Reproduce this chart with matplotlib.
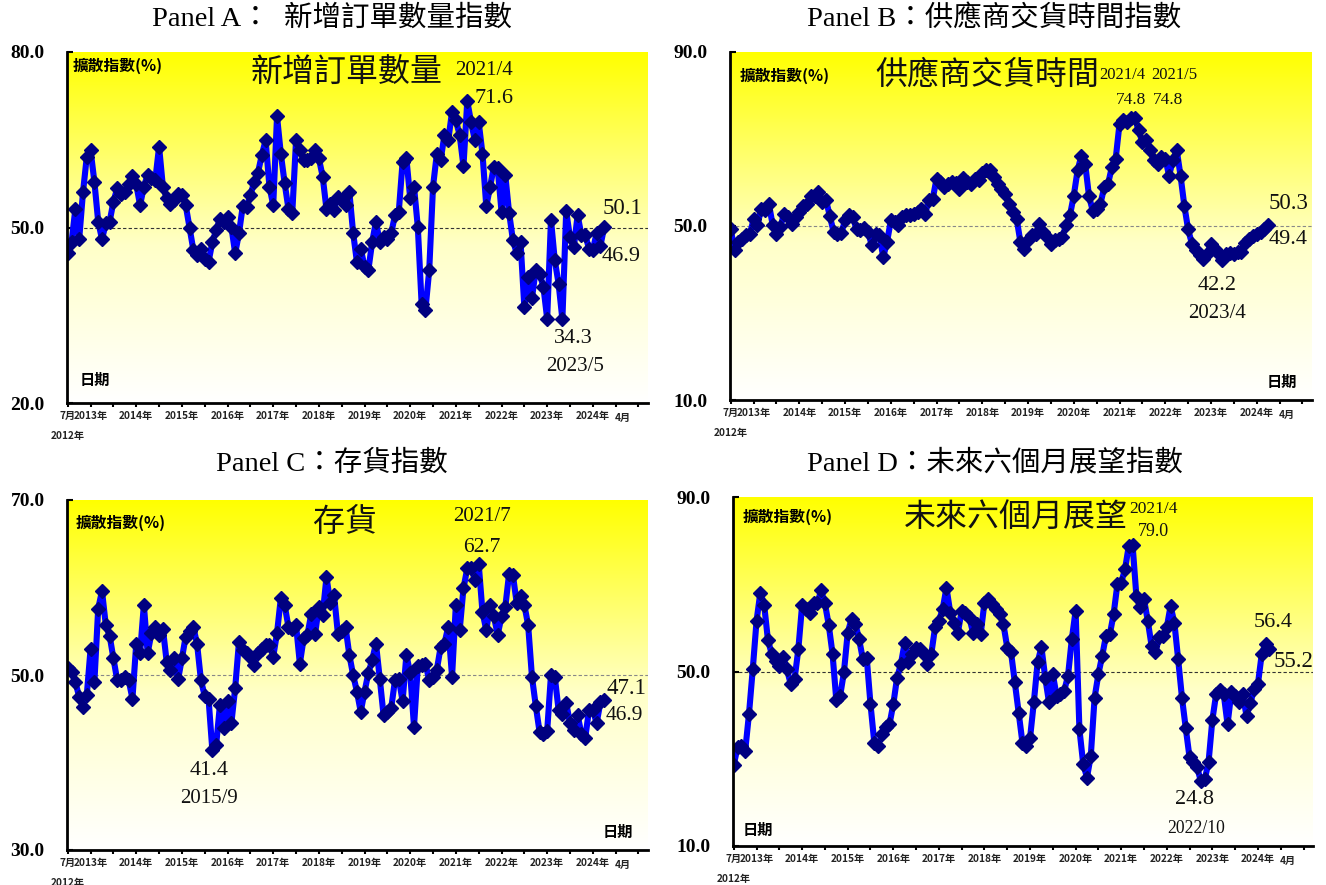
import numpy as np
import matplotlib.pyplot as plt
from matplotlib.colors import LinearSegmentedColormap

plt.rcParams['font.family'] = ['Liberation Serif', 'Noto Sans CJK TC']

##### 資料 (2012/7 ~ 2024/4, 每月一點) #####
new_orders = [45.6, 47.5, 53.2, 48.0, 56.0, 62.1, 63.2, 57.8, 51.0, 48.0, 50.7, 51.0,
              54.4, 56.7, 55.7, 56.1, 57.5, 58.8, 57.4, 53.8, 57.0, 59.0, 58.5, 58.1,
              63.8, 57.0, 55.0, 54.0, 54.7, 55.8, 55.5, 53.8, 50.0, 46.2, 45.3, 46.4,
              44.7, 44.1, 47.5, 49.5, 51.5, 51.0, 51.8, 50.1, 45.6, 49.0, 53.7, 53.5,
              55.5, 57.8, 59.4, 62.4, 64.9, 57.0, 53.8, 69.0, 62.6, 57.6, 53.2, 52.4,
              64.9, 63.2, 61.5, 61.5, 61.8, 63.3, 61.8, 58.7, 53.1, 54.0, 53.0, 55.2,
              54.7, 53.8, 56.1, 49.1, 44.1, 46.4, 43.3, 42.7, 47.5, 51.0, 47.5, 48.4,
              48.1, 49.0, 52.1, 52.7, 61.2, 61.8, 55.0, 57.0, 50.1, 37.0, 35.9, 42.7,
              57.0, 62.6, 61.5, 65.8, 64.9, 69.8, 68.3, 65.8, 60.5, 71.6, 68.0, 64.9,
              68.0, 62.6, 53.6, 57.0, 60.4, 60.1, 52.7, 58.9, 52.5, 47.8, 45.6, 47.5,
              36.4, 41.6, 37.9, 42.8, 42.1, 39.9, 34.4, 51.3, 44.4, 40.4, 34.3, 52.8,
              48.3, 46.6, 52.1, 48.7, 48.7, 46.4, 46.1, 49.1, 46.9, 50.1]

supplier_delivery = [49.2, 44.4, 46.3, 47.1, 47.9, 48.2, 51.5, 50.2, 54.0, 53.6, 55.1, 50.2,
                     48.2, 49.8, 52.8, 52.1, 50.5, 52.1, 53.2, 54.5, 55.1, 56.8, 57.0, 57.8,
                     55.5, 55.9, 52.2, 48.6, 48.2, 48.4, 51.3, 52.5, 52.1, 49.2, 49.0, 49.6,
                     48.6, 45.6, 48.2, 47.9, 42.9, 46.3, 51.3, 50.9, 50.2, 52.1, 52.5, 52.5,
                     52.8, 53.2, 54.0, 52.8, 56.0, 56.3, 60.9, 60.1, 59.0, 59.7, 60.1, 59.9,
                     58.6, 61.0, 60.1, 59.7, 60.9, 60.5, 62.2, 62.9, 62.8, 61.3, 59.7, 58.6,
                     57.4, 55.1, 53.2, 51.7, 46.3, 44.8, 46.7, 47.9, 48.2, 50.5, 48.6, 47.5,
                     45.9, 46.7, 47.1, 47.5, 50.2, 52.5, 57.0, 62.8, 66.2, 64.2, 56.8, 53.4,
                     54.0, 55.1, 59.0, 59.7, 63.6, 65.5, 73.5, 74.3, 74.0, 74.8, 74.8, 72.0,
                     69.3, 69.7, 67.4, 65.1, 64.3, 65.9, 65.5, 61.6, 65.1, 67.5, 61.6, 54.7,
                     49.2, 45.9, 44.4, 43.3, 42.5, 43.6, 45.9, 44.8, 43.6, 42.2, 43.6, 43.8,
                     43.6, 44.0, 44.0, 46.1, 46.9, 47.6, 48.2, 48.6, 49.4, 50.3]

inventories = [50.8, 50.3, 49.2, 47.5, 46.4, 47.7, 53.0, 49.2, 57.6, 59.6, 55.7, 54.5,
               51.9, 49.4, 49.4, 49.8, 49.4, 47.3, 53.6, 52.5, 58.0, 52.5, 54.8, 55.5,
               54.6, 55.3, 51.5, 50.6, 51.9, 49.5, 51.9, 54.4, 55.0, 55.5, 53.5, 49.4,
               47.6, 47.3, 41.4, 42.0, 46.6, 43.9, 47.0, 44.5, 48.5, 53.8, 52.9, 52.5,
               52.1, 51.1, 52.5, 53.0, 53.4, 53.4, 52.1, 54.8, 58.8, 58.0, 55.5, 55.3,
               55.7, 51.3, 54.2, 54.6, 57.0, 54.7, 57.8, 56.9, 61.2, 58.2, 59.1, 54.7,
               55.0, 55.5, 52.3, 50.0, 48.1, 45.8, 48.1, 50.2, 51.7, 53.6, 49.6, 45.4,
               45.8, 46.2, 49.4, 49.6, 47.0, 52.3, 50.2, 44.1, 51.0, 51.1, 51.3, 49.4,
               49.8, 50.6, 53.2, 53.6, 55.5, 49.8, 58.0, 55.1, 59.9, 62.2, 62.2, 60.9,
               62.7, 57.2, 55.1, 58.0, 56.7, 54.6, 56.7, 57.8, 61.6, 61.4, 58.2, 59.0,
               58.0, 55.7, 49.8, 46.5, 43.5, 43.3, 43.6, 50.0, 49.8, 46.0, 45.6, 46.8,
               44.5, 43.7, 45.4, 43.3, 42.8, 46.0, 46.0, 44.5, 46.9, 47.1]

future_outlook = [28.6, 32.6, 33.0, 31.7, 40.2, 50.5, 61.6, 68.1, 65.3, 57.2, 54.0, 52.4,
                  51.3, 53.4, 50.5, 47.1, 48.2, 55.1, 65.3, 64.3, 63.5, 65.8, 65.6, 68.6,
                  65.6, 60.7, 54.1, 43.4, 44.4, 49.8, 58.9, 62.0, 61.0, 57.4, 52.8, 53.2,
                  42.5, 33.7, 33.0, 35.6, 37.2, 37.9, 42.5, 48.6, 51.7, 56.6, 52.1, 54.0,
                  55.5, 55.1, 54.0, 51.8, 54.0, 60.1, 61.6, 64.3, 69.2, 63.5, 61.2, 58.9,
                  63.9, 63.5, 62.4, 58.9, 60.8, 58.5, 65.8, 66.6, 65.4, 64.3, 63.1, 60.8,
                  55.5, 54.4, 47.5, 40.6, 33.7, 33.0, 34.7, 42.9, 52.1, 55.6, 48.6, 42.9,
                  49.4, 44.4, 44.8, 45.6, 49.0, 57.4, 63.9, 36.8, 28.8, 25.7, 30.7, 44.0,
                  49.4, 53.6, 58.2, 58.5, 63.1, 70.0, 70.4, 73.4, 78.8, 79.0, 67.3, 64.7,
                  66.6, 61.6, 55.9, 54.4, 57.8, 58.2, 60.1, 65.0, 61.2, 52.8, 44.0, 37.0,
                  30.3, 29.2, 28.0, 24.8, 25.3, 29.2, 38.9, 44.8, 45.7, 44.8, 37.9, 45.2,
                  44.4, 42.9, 44.8, 39.8, 42.7, 46.0, 47.1, 54.0, 56.4, 55.2]

year_labels = ["2013年", "2014年", "2015年", "2016年", "2017年", "2018年",
               "2019年", "2020年", "2021年", "2022年", "2023年", "2024年"]

##### 畫布 #####
W, H = 1326, 885
fig = plt.figure(figsize=(W / 100, H / 100), dpi=100)

#黃色->白色漸層
cmap_bg = LinearSegmentedColormap.from_list(
    "yw", [(0, "#FFFFFF"), (0.45, "#FFFFC8"), (1, "#FFFF00")])
grad = np.linspace(0, 1, 256).reshape(-1, 1)

tick_font = dict(fontsize=7.3, fontweight="bold", family="Noto Sans CJK TC", color="#222222")


def draw_panel(box, values, ymin, ymax, title, inner_title, inner_pos, label_pos,
               date_pos, notes, ref_color):
    left, top, right, bottom = box
    ax = fig.add_axes([left / W, 1 - bottom / H, (right - left) / W, (bottom - top) / H])
    ax.imshow(grad, cmap=cmap_bg, extent=[0, 1, 0, 1], transform=ax.transAxes,
              aspect="auto", origin="lower", zorder=0)

    x = np.arange(len(values))
    ax.axhline(50, color=ref_color, lw=0.8, dashes=(3, 2), zorder=1)
    ax.plot(x, values, color="#0000FF", lw=4.4, zorder=2, solid_joinstyle="round")
    ax.plot(x, values, ls="none", marker="D", ms=6.8, color="#000080", zorder=3)

    ax.set_xlim(-0.2, 152.5)
    ax.set_ylim(ymin, ymax)

    #軸線
    for s in ["top", "right"]:
        ax.spines[s].set_visible(False)
    for s in ["left", "bottom"]:
        ax.spines[s].set_linewidth(2)
        ax.spines[s].set_zorder(4)

    ax.set_yticks([ymin, 50, ymax])
    ax.set_yticklabels([f"{v:.1f}" for v in [ymin, 50, ymax]],
                       fontsize=14, fontweight="bold", family="Liberation Serif")
    ax.tick_params(axis="y", direction="in", length=4, width=1.5, pad=16)

    ticks = list(range(0, 151, 6))
    labels = []
    for t in ticks:
        if t == 0:
            labels.append("7月")
        elif (t - 6) % 12 == 0 and (t - 6) // 12 < len(year_labels):
            labels.append(year_labels[(t - 6) // 12])
        else:
            labels.append("")
    ax.set_xticks(ticks)
    ax.set_xticklabels(labels, **tick_font)
    ax.tick_params(axis="x", direction="out", length=3, width=1.5, pad=3)
    ax.annotate("4月", xy=(146, 0), xycoords=("data", "axes fraction"),
                xytext=(0, -11), textcoords="offset points", ha="center", va="center",
                **tick_font)
    ax.annotate("2012年", xy=(0, 0), xycoords=("data", "axes fraction"),
                xytext=(0, -24), textcoords="offset points", ha="center", va="center",
                annotation_clip=False, **tick_font)

    #文字
    ax.text(inner_pos[0], inner_pos[1], inner_title, transform=ax.transAxes, ha="center",
            va="center", fontsize=23, fontweight=300, family="Noto Sans CJK TC",
            color="#111111", zorder=5)
    ax.text(label_pos[0], label_pos[1], "擴散指數(%)", transform=ax.transAxes, ha="left",
            va="center", fontsize=11.3, fontweight="bold", family="Noto Sans CJK TC", zorder=5)
    ax.text(date_pos[0], date_pos[1], "日期", transform=ax.transAxes, ha=date_pos[2],
            va="center", fontsize=11, fontweight="bold", family="Noto Sans CJK TC", zorder=5)
    for txt, nx, ny, size in notes:
        ax.text(nx, ny, txt, ha="center", va="center", fontsize=size,
                family="Liberation Serif", color="#111111", zorder=5)

    cx = 0.25 if left < W / 2 else 0.75
    cy = 1 - (18 / H) if top < H / 2 else 1 - (463 / H)
    fig.text(cx, cy, title, ha="center", va="center", fontsize=20.5)
    return ax


draw_panel((67, 52, 648, 403), new_orders, 20, 80, "Panel A：  新增訂單數量指數",
           "新增訂單數量", (0.482, 0.943), (0.009, 0.96), (0.022, 0.066, "left"),
           [("2021/4", 109.3, 76.9, 15), ("71.6", 111.9, 72.1, 16),
            ("50.1", 145.7, 53.3, 16.5), ("46.9", 145.5, 45.1, 16),
            ("34.3", 132.9, 31.1, 16), ("2023/5", 133.4, 26.2, 15)], "#333333")

draw_panel((730, 52, 1312, 400), supplier_delivery, 10, 90, "Panel B：供應商交貨時間指數",
           "供應商交貨時間", (0.443, 0.934), (0.017, 0.931), (0.974, 0.052, "right"),
           [("2021/4", 102.8, 84.7, 12), ("2021/5", 116.4, 84.7, 12),
            ("74.8", 104.9, 79.0, 12.5), ("74.8", 114.6, 79.0, 12.5),
            ("50.3", 146.3, 55.1, 16.5), ("49.4", 146.3, 46.8, 16),
            ("42.2", 127.7, 36.4, 16), ("2023/4", 127.7, 29.8, 15)], "#888888")

draw_panel((67, 500, 648, 850), inventories, 30, 70, "Panel C：存貨指數",
           "存貨", (0.478, 0.937), (0.015, 0.934), (0.974, 0.051, "right"),
           [("41.4", 37.1, 39.1, 16), ("2015/9", 37.1, 35.9, 15),
            ("2021/7", 109.0, 68.1, 15), ("62.7", 108.7, 64.6, 15.5),
            ("47.1", 146.8, 48.5, 16.5), ("46.9", 146.3, 45.4, 15.5)], "#888888")

draw_panel((733, 497, 1313, 846), future_outlook, 10, 90, "Panel D：未來六個月展望指數",
           "未來六個月展望", (0.488, 0.943), (0.016, 0.943), (0.017, 0.046, "left"),
           [("2021/4", 110.4, 87.2, 12.5), ("79.0", 110.4, 82.0, 13),
            ("56.4", 141.9, 61.3, 16), ("55.2", 147.4, 52.2, 16.5),
            ("24.8", 121.4, 20.6, 16), ("2022/10", 121.7, 14.1, 12.7)], "#333333")

plt.savefig("out.png", dpi=100)
